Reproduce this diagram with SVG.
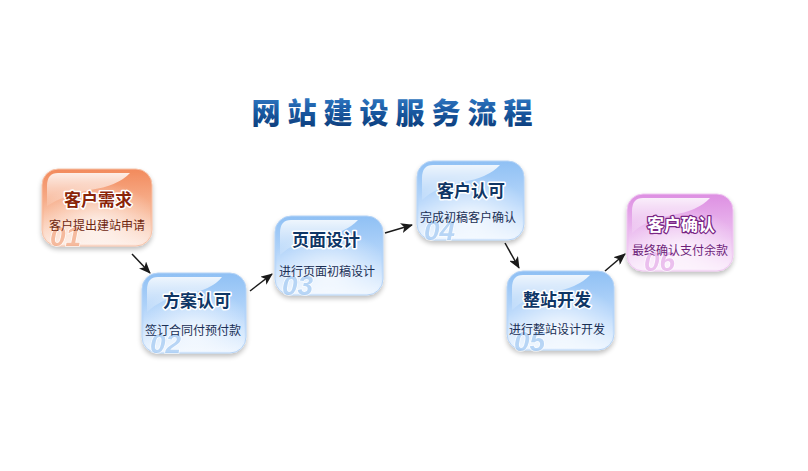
<svg xmlns="http://www.w3.org/2000/svg" width="808" height="471" viewBox="0 0 808 471">
<defs>
  <linearGradient id="gTitle" x1="0" y1="0" x2="0" y2="1">
    <stop offset="0" stop-color="#3c86d0"/>
    <stop offset="0.5" stop-color="#1a5aa3"/>
    <stop offset="1" stop-color="#0a3672"/>
  </linearGradient>
  <linearGradient id="gRefl" x1="0" y1="0" x2="0" y2="1">
    <stop offset="0" stop-color="#ffffff" stop-opacity="0.6"/>
    <stop offset="1" stop-color="#ffffff" stop-opacity="1"/>
  </linearGradient>
  <linearGradient id="gBlue" x1="0" y1="0" x2="0" y2="1">
    <stop offset="0" stop-color="#8fc0f4"/>
    <stop offset="0.55" stop-color="#b9d8fb"/>
    <stop offset="1" stop-color="#eef6ff"/>
  </linearGradient>
  <linearGradient id="gOrange" x1="0" y1="0" x2="0" y2="1">
    <stop offset="0" stop-color="#f28a5c"/>
    <stop offset="0.55" stop-color="#f8b898"/>
    <stop offset="1" stop-color="#fdebe2"/>
  </linearGradient>
  <linearGradient id="gPink" x1="0" y1="0" x2="0" y2="1">
    <stop offset="0" stop-color="#dd8fe2"/>
    <stop offset="0.55" stop-color="#ecbff0"/>
    <stop offset="1" stop-color="#fbeefc"/>
  </linearGradient>
  <radialGradient id="gInner" cx="0.5" cy="0.75" r="0.6">
    <stop offset="0" stop-color="#ffffff" stop-opacity="0.75"/>
    <stop offset="1" stop-color="#ffffff" stop-opacity="0"/>
  </radialGradient>
  <linearGradient id="gGloss" x1="0" y1="0" x2="0" y2="1">
    <stop offset="0" stop-color="#ffffff" stop-opacity="0.85"/>
    <stop offset="1" stop-color="#ffffff" stop-opacity="0.1"/>
  </linearGradient>
  <filter id="shadow" x="-20%" y="-20%" width="140%" height="150%">
    <feGaussianBlur in="SourceAlpha" stdDeviation="2.5"/>
    <feOffset dx="0" dy="3" result="b"/>
    <feComponentTransfer><feFuncA type="linear" slope="0.25"/></feComponentTransfer>
    <feMerge><feMergeNode/><feMergeNode in="SourceGraphic"/></feMerge>
  </filter>
  <marker id="arr" viewBox="0 0 12 10" refX="11" refY="5" markerWidth="12" markerHeight="10" markerUnits="userSpaceOnUse" orient="auto">
    <path d="M0,0 L12,5 L0,10 L3,5 Z" fill="#1a1a1a"/>
  </marker>
</defs>
<style>
  .title { font-family: "Noto Sans CJK SC", "Liberation Sans", sans-serif; font-weight: 900; font-size: 29px; fill: url(#gTitle); text-anchor: middle; }
  .nt { font-family: "Noto Sans CJK SC", sans-serif; font-weight: 700; font-size: 17px; text-anchor: middle; stroke: #ffffff; stroke-width: 3px; paint-order: stroke; stroke-linejoin: round; }
  .ns { font-family: "Noto Sans CJK SC", sans-serif; font-size: 12px; text-anchor: middle; }
  .num { font-family: "Liberation Sans", sans-serif; font-weight: 700; font-style: italic; font-size: 28px; stroke: #ffffff; stroke-width: 1.5px; paint-order: stroke; }
  .blue .nt { fill: #0f3665; }
  .blue .ns { fill: #1a2f55; }
  .blue .num { fill: #a6cbf3; opacity: 0.75; }
  .orange .nt { fill: #8a2408; }
  .orange .ns { fill: #6e2610; }
  .orange .num { fill: #f3ab88; opacity: 0.75; }
  .pink .nt { fill: #ffffff; stroke: #7a2785; stroke-width: 2.5px; }
  .pink .ns { fill: #6e1f7a; }
  .pink .num { fill: #e6b0ea; opacity: 0.75; }
  .edge { stroke: #1a1a1a; stroke-width: 1.5; fill: none; marker-end: url(#arr); }
  .inner { fill: url(#gInner); }
  .gloss { fill: url(#gGloss); }
</style>
<rect width="808" height="471" fill="#ffffff"/>

<g id="title">
  <text class="title" y="124"><tspan x="266">网</tspan><tspan x="302">站</tspan><tspan x="338">建</tspan><tspan x="374">设</tspan><tspan x="410">服</tspan><tspan x="446">务</tspan><tspan x="482">流</tspan><tspan x="518">程</tspan></text>
</g>

<g id="connectors">
  <line class="edge" x1="132" y1="254" x2="150" y2="273"/>
  <line class="edge" x1="250" y1="291" x2="272" y2="274"/>
  <line class="edge" x1="385" y1="233" x2="412" y2="225"/>
  <line class="edge" x1="505" y1="243" x2="519" y2="268"/>
  <line class="edge" x1="605" y1="271" x2="625" y2="254"/>
</g>

<g id="node1" class="orange">
  <rect x="42" y="169" width="110" height="77" rx="16" fill="url(#gOrange)" stroke="#f6c2a8" stroke-width="1" filter="url(#shadow)"/>
  <rect x="44" y="171" width="106" height="73" rx="14" class="inner"/>
  <path d="M58,173 H130 Q118,186 90,190 Q66,194 47,206 V186 Q47,173 58,173 Z" class="gloss"/>
  <text class="num" x="50" y="246">01</text>
  <text class="nt" x="98" y="206">客户需求</text>
  <text class="ns" x="97" y="230">客户提出建站申请</text>
</g>

<g id="node2" class="blue">
  <rect x="142" y="273" width="104" height="80" rx="16" fill="url(#gBlue)" stroke="#b5d3f6" stroke-width="1" filter="url(#shadow)"/>
  <rect x="144" y="275" width="100" height="76" rx="14" class="inner"/>
  <path d="M158,277 H222 Q212,290 186,294 Q162,298 147,312 V290 Q147,277 158,277 Z" class="gloss"/>
  <text class="num" x="150" y="353">02</text>
  <text class="nt" x="197" y="307">方案认可</text>
  <text class="ns" x="193" y="335">签订合同付预付款</text>
</g>

<g id="node3" class="blue">
  <rect x="275" y="216" width="108" height="79" rx="16" fill="url(#gBlue)" stroke="#b5d3f6" stroke-width="1" filter="url(#shadow)"/>
  <rect x="277" y="218" width="104" height="75" rx="14" class="inner"/>
  <path d="M291,220 H358 Q346,233 320,237 Q295,241 280,255 V233 Q280,220 291,220 Z" class="gloss"/>
  <text class="num" x="282" y="295">03</text>
  <text class="nt" x="326" y="246">页面设计</text>
  <text class="ns" x="327" y="276">进行页面初稿设计</text>
</g>

<g id="node4" class="blue">
  <rect x="417" y="161" width="107" height="79" rx="16" fill="url(#gBlue)" stroke="#b5d3f6" stroke-width="1" filter="url(#shadow)"/>
  <rect x="419" y="163" width="103" height="75" rx="14" class="inner"/>
  <path d="M433,165 H500 Q488,178 462,182 Q437,186 422,200 V178 Q422,165 433,165 Z" class="gloss"/>
  <text class="num" x="424" y="240">04</text>
  <text class="nt" x="471" y="197">客户认可</text>
  <text class="ns" x="468" y="222">完成初稿客户确认</text>
</g>

<g id="node5" class="blue">
  <rect x="507" y="271" width="107" height="79" rx="16" fill="url(#gBlue)" stroke="#b5d3f6" stroke-width="1" filter="url(#shadow)"/>
  <rect x="509" y="273" width="103" height="75" rx="14" class="inner"/>
  <path d="M523,275 H590 Q578,288 552,292 Q527,296 512,310 V288 Q512,275 523,275 Z" class="gloss"/>
  <text class="num" x="514" y="351">05</text>
  <text class="nt" x="557" y="306">整站开发</text>
  <text class="ns" x="557" y="334">进行整站设计开发</text>
</g>

<g id="node6" class="pink">
  <rect x="627" y="194" width="106" height="77" rx="16" fill="url(#gPink)" stroke="#efc6f1" stroke-width="1" filter="url(#shadow)"/>
  <rect x="629" y="196" width="102" height="73" rx="14" class="inner"/>
  <path d="M643,198 H710 Q698,211 672,215 Q647,219 632,233 V211 Q632,198 643,198 Z" class="gloss"/>
  <text class="num" x="644" y="271">06</text>
  <text class="nt" x="681" y="231">客户确认</text>
  <text class="ns" x="680" y="255">最终确认支付余款</text>
</g>
</svg>
